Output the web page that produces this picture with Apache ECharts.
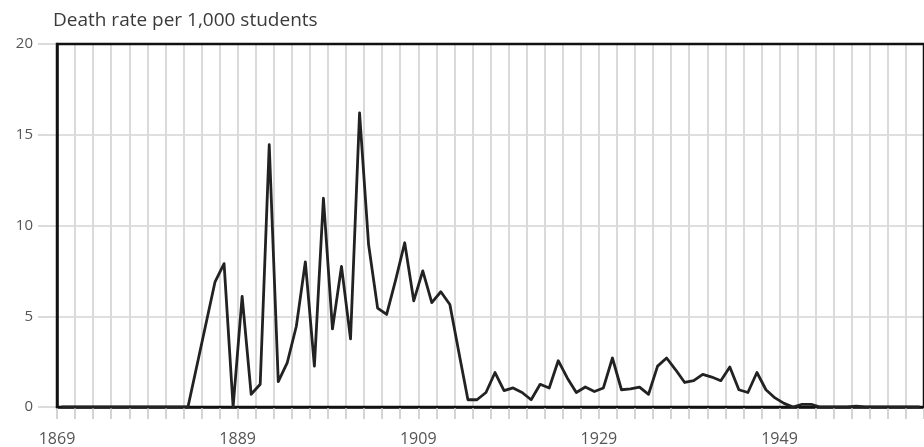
<!DOCTYPE html>
<html>
<head>
<meta charset="utf-8">
<script src="https://cdn.jsdelivr.net/npm/echarts@6/dist/echarts.min.js"></script>
<style>
html,body{margin:0;padding:0;background:#fff;}
#chart{width:924px;height:447px;}
</style>
</head>
<body>
<div id="chart"></div>
<script>
// Years (categories) 1869..1964
const startYear = 1869;
const endYear = 1964;
const years = [];
for (let y = startYear; y <= endYear; y++) years.push(String(y));

// Death rate per 1,000 students, one value per year
const rate1869to1882 = [0,0,0,0,0,0,0,0,0,0,0,0,0,0];
const rate1883to1912 = [0, 2.3, 4.6, 6.9, 7.9, 0, 6.1, 0.7, 1.25, 14.45,
                        1.4, 2.45, 4.45, 8.0, 2.25, 11.5, 4.3, 7.75, 3.75, 16.2,
                        8.95, 5.45, 5.1, 7.0, 9.05, 5.85, 7.5, 5.75, 6.35, 5.65];
const rate1913to1942 = [3.0, 0.4, 0.4, 0.8, 1.9, 0.9, 1.05, 0.8, 0.4, 1.25,
                        1.05, 2.55, 1.6, 0.8, 1.1, 0.85, 1.05, 2.7, 0.95, 1.0,
                        1.1, 0.7, 2.25, 2.7, 2.05, 1.35, 1.45, 1.8, 1.65, 1.45];
const rate1943to1964 = [2.2, 0.95, 0.8, 1.9, 0.95, 0.5, 0.2, 0, 0.15, 0.15,
                        0, 0, 0, 0, 0.05, 0, 0, 0, 0, 0,
                        0, 0];
const deathRate = [].concat(rate1869to1882, rate1883to1912, rate1913to1942, rate1943to1964);

const yTicks = [0, 5, 10, 15, 20];
const titleText = 'Death rate per 1,000 students';

const chart = echarts.init(document.getElementById('chart'), null, {renderer: 'canvas'});
const font = '"Open Sans", "DejaVu Sans", sans-serif';

chart.setOption({
  animation: false,
  backgroundColor: '#ffffff',
  title: {
    text: titleText,
    left: 48,
    top: 6,
    textStyle: {fontFamily: font, fontSize: 19, fontWeight: 'normal', color: '#3a3a3a'}
  },
  grid: {
    left: 57, top: 44, right: -3, bottom: 39.5,
    show: true, borderColor: '#111', borderWidth: 2.5, backgroundColor: 'transparent', z: 3
  },
  xAxis: {
    type: 'category',
    data: years,
    boundaryGap: true,
    axisLine: {show: true, lineStyle: {color: '#111', width: 2.5}},
    axisTick: {show: true, interval: 1, length: 12, lineStyle: {color: '#d4d4d4', width: 2}},
    splitLine: {show: true, interval: 1, lineStyle: {color: '#dadada', width: 2}},
    axisLabel: {
      interval: 19,
      margin: 24,
      padding: [0, 9, 0, 0],
      fontFamily: font, fontSize: 16, color: '#555'
    }
  },
  yAxis: {
    type: 'value',
    min: yTicks[0],
    max: yTicks[yTicks.length - 1],
    interval: 5,
    axisLine: {show: true, lineStyle: {color: '#111', width: 2.5}},
    axisTick: {show: true, length: 19, lineStyle: {color: '#cfcfcf', width: 1.5}},
    splitLine: {show: true, showMaxLine: false, lineStyle: {color: '#d4d4d4', width: 1.5}},
    axisLabel: {margin: 24, fontFamily: font, fontSize: 15, color: '#555'}
  },
  series: [{
    type: 'line',
    data: deathRate,
    symbol: 'none',
    smooth: false,
    lineStyle: {color: '#222', width: 2.8, join: 'round'},
    z: 5
  }]
});
</script>
</body>
</html>
